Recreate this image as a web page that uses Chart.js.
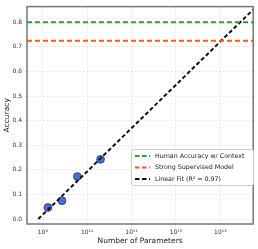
<!DOCTYPE html>
<html>
<head>
<meta charset="utf-8">
<script src="https://cdn.jsdelivr.net/npm/chart.js@4"></script>
<style>
  html, body { margin: 0; padding: 0; background: #fff; }
  #wrap { width: 258px; height: 249px; }
</style>
</head>
<body>
<div id="wrap"><canvas id="chart" width="258" height="249"></canvas></div>
<script>
// Model sizes and accuracies
const paramCounts = [1.3e9, 2.7e9, 6.0e9, 2.0e10];
const accuracy = [0.047, 0.075, 0.173, 0.243];

// Linear fit endpoints (log x)
const fitX = [7.9e8, 6.6e13];
const fitY = [0.0, 0.866];

const humanAcc = 0.8;
const supervisedAcc = 0.725;

const xMin = 4.4e8;
const xMax = 5.5e13;
const xTicks = [1e9, 1e10, 1e11, 1e12, 1e13];
const yTicks = [0, 0.1, 0.2, 0.3, 0.4, 0.5, 0.6, 0.7, 0.8];

const legendLabels = ['Human Accuracy w/ Context', 'Strong Supervised Model', 'Linear Fit (R\u00b2 = 0.97)'];
const legendColors = ['#2ca02c', '#ff5722', '#111111'];

const supers = { '0': '\u2070', '1': '\u00b9', '2': '\u00b2', '3': '\u00b3', '4': '\u2074', '5': '\u2075', '6': '\u2076', '7': '\u2077', '8': '\u2078', '9': '\u2079' };
const powLabel = v => '10' + String(Math.round(Math.log10(v))).split('').map(c => supers[c]).join('');

const fontFam = "'DejaVu Sans', sans-serif";

// frame + legend drawn inside plot area
const framePlugin = {
    id: 'frame',
    afterDraw(chart) {
        const { ctx, chartArea: a } = chart;
        ctx.save();
        ctx.strokeStyle = '#777';
        ctx.lineWidth = 1.5;
        ctx.strokeRect(a.left, a.top, a.right - a.left, a.bottom - a.top);

        // legend
        const bx = 131, by = 149, bw = 122, bh = 36;
        ctx.fillStyle = 'rgba(255,255,255,0.9)';
        ctx.strokeStyle = '#ccc';
        ctx.lineWidth = 1;
        ctx.beginPath();
        ctx.roundRect(bx + 0.5, by + 0.5, bw, bh, 2);
        ctx.fill();
        ctx.stroke();
        ctx.font = '6.3px ' + fontFam;
        ctx.textBaseline = 'middle';
        legendLabels.forEach((lab, i) => {
            const y = by + 7 + i * 11.5;
            ctx.strokeStyle = legendColors[i];
            ctx.lineWidth = 2;
            ctx.setLineDash([4.5, 2.5]);
            ctx.beginPath();
            ctx.moveTo(135, y);
            ctx.lineTo(150, y);
            ctx.stroke();
            ctx.setLineDash([]);
            ctx.fillStyle = '#222';
            ctx.fillText(lab, 155, y);
        });
        ctx.restore();
    }
};

new Chart(document.getElementById('chart').getContext('2d'), {
    type: 'scatter',
    data: {
        datasets: [
            {
                label: legendLabels[0],
                type: 'line',
                data: [{ x: xMin, y: humanAcc }, { x: xMax, y: humanAcc }],
                borderColor: legendColors[0],
                borderWidth: 2,
                borderDash: [5, 3],
                pointRadius: 0
            },
            {
                label: legendLabels[1],
                type: 'line',
                data: [{ x: xMin, y: supervisedAcc }, { x: xMax, y: supervisedAcc }],
                borderColor: legendColors[1],
                borderWidth: 2,
                borderDash: [5, 3],
                pointRadius: 0
            },
            {
                label: legendLabels[2],
                type: 'line',
                data: fitX.map((x, i) => ({ x, y: fitY[i] })),
                borderColor: legendColors[2],
                borderWidth: 2,
                borderDash: [4, 2.5],
                pointRadius: 0
            },
            {
                label: 'Models',
                data: paramCounts.map((x, i) => ({ x, y: accuracy[i] })),
                backgroundColor: '#4a6fd8',
                borderColor: '#1f2f66',
                borderWidth: 0.8,
                pointRadius: 3.9
            }
        ]
    },
    options: {
        responsive: false,
        animation: false,
        layout: { padding: { top: 3, right: 4, left: 0, bottom: 0 } },
        plugins: { legend: { display: false }, tooltip: { enabled: false } },
        scales: {
            x: {
                type: 'logarithmic',
                min: xMin,
                max: xMax,
                afterBuildTicks: s => { s.ticks = xTicks.map(v => ({ value: v })); },
                afterFit: s => { s.height = 25; },
                ticks: {
                    callback: v => powLabel(v),
                    font: { size: 6, family: fontFam },
                    color: '#333',
                    padding: 3,
                    maxRotation: 0,
                    autoSkip: false
                },
                grid: { color: '#d8d8d8', tickLength: 2, lineWidth: 0.6 },
                border: { dash: [2, 2], display: false },
                title: { display: true, text: 'Number of Parameters', font: { size: 7.5, family: fontFam }, color: '#222', padding: { top: 0, bottom: 3 } }
            },
            y: {
                min: -0.02,
                max: 0.864,
                afterBuildTicks: s => { s.ticks = yTicks.map(v => ({ value: v })); },
                afterFit: s => { s.width = 27; },
                ticks: {
                    callback: v => v.toFixed(1),
                    font: { size: 6, family: fontFam },
                    color: '#333',
                    padding: 3
                },
                grid: { color: '#d8d8d8', tickLength: 2, lineWidth: 0.6 },
                border: { dash: [2, 2], display: false },
                title: { display: true, text: 'Accuracy', font: { size: 7.5, family: fontFam }, color: '#222', padding: { top: 3, bottom: 0 } }
            }
        }
    },
    plugins: [framePlugin]
});
</script>
</body>
</html>
